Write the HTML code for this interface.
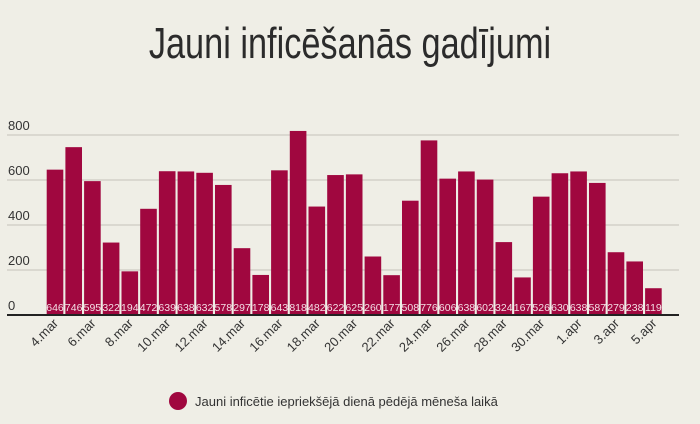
<!DOCTYPE html>
<html><head><meta charset="utf-8"><style>
body{margin:0;background:#efeee6;}
svg{display:block;font-family:"Liberation Sans",sans-serif;}
</style></head><body>
<svg width="700" height="424">
<rect width="700" height="424" fill="#efeee6"/>
<text x="350" y="58" text-anchor="middle" font-size="44" fill="#2b2b2b" transform="translate(350 0) scale(0.78 1) translate(-350 0)">Jauni inficēšanās gadījumi</text>
<g id="grid"></g><g id="bars"></g><g id="xl"></g>
<line x1="7" x2="679" y1="315" y2="315" stroke="#222" stroke-width="2"/>
<circle cx="178" cy="401" r="9" fill="#a0073f"/>
<text x="195" y="406" font-size="13" fill="#333">Jauni inficētie iepriekšējā dienā pēdējā mēneša laikā</text>
</svg>
<script>
const categories=["4.mar","5.mar","6.mar","7.mar","8.mar","9.mar","10.mar","11.mar","12.mar","13.mar","14.mar","15.mar","16.mar","17.mar","18.mar","19.mar","20.mar","21.mar","22.mar","23.mar","24.mar","25.mar","26.mar","27.mar","28.mar","29.mar","30.mar","31.mar","1.apr","2.apr","3.apr","4.apr","5.apr"];
const values=[646,746,595,322,194,472,639,638,632,578,297,178,643,818,482,622,625,260,177,508,776,606,638,602,324,167,526,630,638,587,279,238,119];
const yTicks=[0,200,400,600,800];
const NS="http://www.w3.org/2000/svg";
const y=v=>315-v*45/200;
const x=i=>46.7+i*18.7;
const bw=16.6;
const grid=document.getElementById('grid'),bars=document.getElementById('bars'),xl=document.getElementById('xl');
function mk(t,a){const e=document.createElementNS(NS,t);for(const k in a)e.setAttribute(k,a[k]);return e;}
yTicks.forEach(t=>{
 if(t>0){const l=mk('line',{x1:7,x2:679,y1:y(t),y2:y(t),stroke:'#c4c3bb','stroke-width':1});
 
 
 grid.appendChild(l);}
 const tx=mk('text',{x:8,y:y(t)-5,'font-size':13,fill:'#333'});tx.textContent=t;
 
 
 grid.appendChild(tx);
});
values.forEach((v,i)=>{
 const r=mk('rect',{x:x(i),y:y(v),width:bw,height:315-y(v),fill:'#a0073f'});
 
 
 bars.appendChild(r);
 const t=mk('text',{x:x(i)+bw/2,y:311,'font-size':10.5,fill:'#f4dfe6','text-anchor':'middle'});t.textContent=v;
 
 
 bars.appendChild(t);
 if(i%2===0){
  const cx=x(i)+bw/2+4,cy=324;
  const l=mk('text',{x:cx,y:cy,'font-size':13,fill:'#333','text-anchor':'end',transform:`rotate(-45 ${cx} ${cy})`});
  l.textContent=categories[i];
  
  
  xl.appendChild(l);
 }
});
</script>
</body></html>
